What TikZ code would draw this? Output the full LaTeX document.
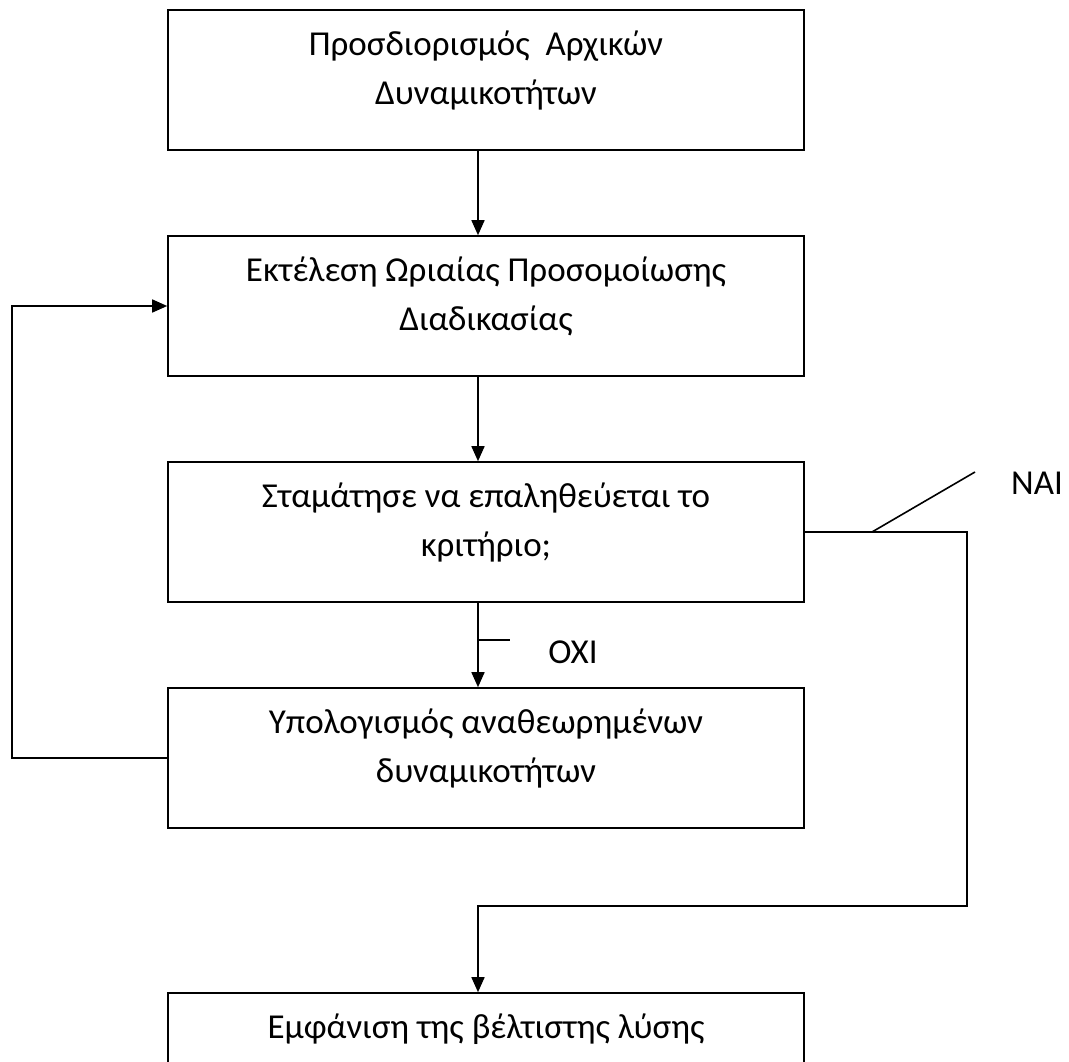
\documentclass[tikz,border=0pt]{standalone}
\usepackage{fontspec}
\setmainfont{Carlito}
\usetikzlibrary{arrows.meta,calc}
\begin{document}
\begin{tikzpicture}[x=1pt,y=-1pt,
  box/.style={draw, line width=1.6pt, minimum width=636pt, minimum height=140pt, inner sep=0pt},
  txt/.style={anchor=north, align=center, inner sep=0pt, font=\fontsize{35}{49}\selectfont},
  lbl/.style={inner sep=0pt, font=\fontsize{35}{49}\selectfont},
  conn/.style={line width=1.6pt},
  arr/.style={conn, -{Triangle[length=15pt,width=13pt]}}]
\useasboundingbox (0,0) rectangle (1069,1062);
\clip (0,0) rectangle (1069,1062);
% boxes
\node[box] (b1) at (486,80) {};
\node[box] (b2) at (486,306) {};
\node[box] (b3) at (486,532) {};
\node[box] (b4) at (486,758) {};
\node[box] (b5) at (486,1063) {};
% texts
\node[txt] (t1) at ($(b1.north)+(0,12)$) {\strut Προσδιορισμός\ \ Αρχικών\\\strut Δυναμικοτήτων};
\node[txt] (t2) at ($(b2.north)+(0,12)$) {\strut Εκτέλεση Ωριαίας Προσομοίωσης\\\strut Διαδικασίας};
\node[txt] (t3) at ($(b3.north)+(0,12)$) {\strut Σταμάτησε να επαληθεύεται το\\\strut κριτήριο;};
\node[txt] (t4) at ($(b4.north)+(0,12)$) {\strut Υπολογισμός αναθεωρημένων\\\strut δυναμικοτήτων};
\node[txt] (t5) at ($(b5.north)+(0,12)$) {\strut Εμφάνιση της βέλτιστης λύσης};
% labels
\node[lbl] (nai) at (1037,483) {ΝΑΙ};
\node[lbl] (oxi) at (573,652) {ΟΧΙ};
% helper coordinates
\coordinate (ax) at (478,0);
\coordinate (lx) at (12,0);
\coordinate (rx) at (967,0);
\coordinate (hy) at (0,906);
\coordinate (naifoot) at (872,532);
\coordinate (naitip) at (975,472);
\coordinate (oxifoot) at (478,640);
\coordinate (oxitip) at (510,640);
% connectors
\draw[arr] (b1.south -| ax) -- (b2.north -| ax);
\draw[arr] (b2.south -| ax) -- (b3.north -| ax);
\draw[arr] (b3.south -| ax) -- (b4.north -| ax);
\draw[arr] (b4.west) -- (b4.west -| lx) -- (b2.west -| lx) -- (b2.west);
\draw[arr] (b3.east) -- (b3.east -| rx) -- (rx |- hy) -- (ax |- hy) -- (b5.north -| ax);
% annotation ticks
\draw[conn] (naifoot) -- (naitip);
\draw[conn] (oxifoot) -- (oxitip);
\end{tikzpicture}
\end{document}
